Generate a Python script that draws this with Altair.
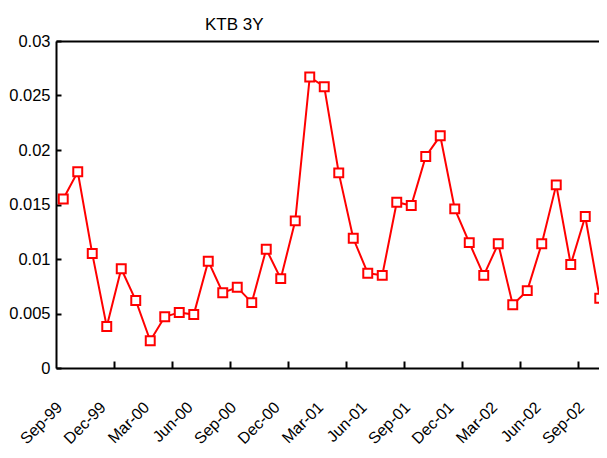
import altair as alt
import pandas as pd

months = [
    "Sep-99", "Oct-99", "Nov-99", "Dec-99",
    "Jan-00", "Feb-00", "Mar-00", "Apr-00", "May-00", "Jun-00",
    "Jul-00", "Aug-00", "Sep-00", "Oct-00", "Nov-00", "Dec-00",
    "Jan-01", "Feb-01", "Mar-01", "Apr-01", "May-01", "Jun-01",
    "Jul-01", "Aug-01", "Sep-01", "Oct-01", "Nov-01", "Dec-01",
    "Jan-02", "Feb-02", "Mar-02", "Apr-02", "May-02", "Jun-02",
    "Jul-02", "Aug-02", "Sep-02", "Oct-02",
]
values = [
    0.0155, 0.0180, 0.0105, 0.0038,
    0.0091, 0.0062, 0.0025, 0.0047, 0.0051, 0.0049,
    0.0098, 0.0069, 0.0074, 0.0060, 0.0109, 0.0082,
    0.0135, 0.0267, 0.0258, 0.0179, 0.0119, 0.0087,
    0.0085, 0.0152, 0.0149, 0.0194, 0.0213, 0.0146,
    0.0115, 0.0085, 0.0114, 0.0058, 0.0071, 0.0114,
    0.0168, 0.0095, 0.0139, 0.0064,
]
y_ticks = [0, 0.005, 0.01, 0.015, 0.02, 0.025, 0.03]
label_months = months[::3]
tick_months = months[4::4]

df = pd.DataFrame({"month": months, "value": values})

W, H = 551, 327
FONT = "Liberation Sans, Arial, Helvetica, sans-serif"
RED = "#FF0000"

xscale = alt.Scale(type="band", paddingInner=0, paddingOuter=0)
yscale = alt.Scale(domain=[0, 0.03], nice=False, zero=True)

base = alt.Chart(df)

# Layer 1: line, with bottom label axis and left label axis
line = base.mark_line(color=RED, strokeWidth=2).encode(
    x=alt.X("month:N", sort=months, scale=xscale, title=None,
            axis=alt.Axis(orient="bottom", values=label_months, bandPosition=0.5,
                          ticks=False, grid=False, domain=True, domainColor="black",
                          domainWidth=2, labelAngle=-45, labelAlign="right",
                          labelBaseline="alphabetic", labelPadding=40, labelFont=FONT,
                          labelFontSize=16, labelColor="black", labelOverlap=False,
                          labelBound=False, labelFlush=False)),
    y=alt.Y("value:Q", scale=yscale, title=None,
            axis=alt.Axis(orient="left", values=y_ticks, format="~g", ticks=False,
                          grid=False, domain=True, domainColor="black", domainWidth=2,
                          labelPadding=6, labelFont=FONT, labelFontSize=16.5,
                          labelColor="black", labelFlush=False)),
)

# Layer 2: invisible, top border line and inward y ticks
frame = base.mark_line(opacity=0).encode(
    x=alt.X("month:N", sort=months, scale=xscale, title=None,
            axis=alt.Axis(orient="top", labels=False, ticks=False, grid=False,
                          domain=True, domainColor="black", domainWidth=2)),
    y=alt.Y("value:Q", scale=yscale, title=None,
            axis=alt.Axis(orient="right", offset=-W, values=y_ticks, labels=False,
                          domain=False, grid=False, ticks=True, tickSize=5,
                          tickWidth=2, tickColor="black")),
)

# Layer 3: square markers with inward x ticks
pts = base.mark_square(size=80, fill="white", stroke=RED, strokeWidth=2,
                       opacity=1, fillOpacity=1).encode(
    x=alt.X("month:N", sort=months, scale=xscale, title=None,
            axis=alt.Axis(orient="top", offset=-H, values=tick_months, bandPosition=0,
                          labels=False, domain=False, grid=False, ticks=True,
                          tickSize=7, tickWidth=2, tickColor="black")),
    y=alt.Y("value:Q", scale=yscale, title=None, axis=None),
)

chart = alt.layer(line, frame, pts).resolve_axis(
    x="independent", y="independent"
).properties(
    width=W, height=H,
    title=alt.Title("KTB 3Y", anchor="start", frame="group", dx=149, dy=3,
                    fontSize=17, font=FONT, fontWeight="normal", color="black",
                    offset=2),
    autosize=alt.AutoSizeParams(type="none"),
    padding={"left": 48, "top": 33, "right": -8, "bottom": 81},
).configure_view(stroke=None).configure(background="white")

chart.save("out.html", embed_options={"renderer": "svg", "actions": False})
